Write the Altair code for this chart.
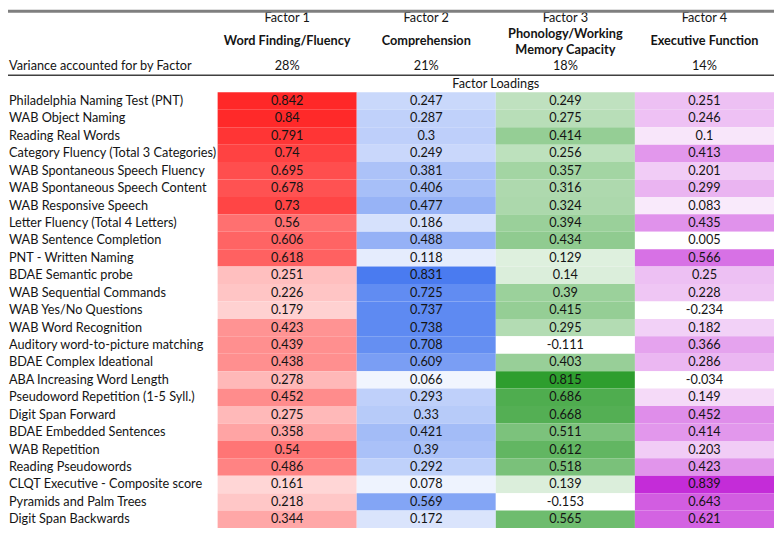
import altair as alt
import pandas as pd

tests = [
    "Philadelphia Naming Test (PNT)",
    "WAB Object Naming",
    "Reading Real Words",
    "Category Fluency (Total 3 Categories)",
    "WAB Spontaneous Speech Fluency",
    "WAB Spontaneous Speech Content",
    "WAB Responsive Speech",
    "Letter Fluency (Total 4 Letters)",
    "WAB Sentence Completion",
    "PNT - Written Naming",
    "BDAE Semantic probe",
    "WAB Sequential Commands",
    "WAB Yes/No Questions",
    "WAB Word Recognition",
    "Auditory word-to-picture matching",
    "BDAE Complex Ideational",
    "ABA Increasing Word Length",
    "Pseudoword Repetition (1-5 Syll.)",
    "Digit Span Forward",
    "BDAE Embedded Sentences",
    "WAB Repetition",
    "Reading Pseudowords",
    "CLQT Executive - Composite score",
    "Pyramids and Palm Trees",
    "Digit Span Backwards",
]

f1 = [0.842, 0.84, 0.791, 0.74, 0.695, 0.678, 0.73, 0.56, 0.606, 0.618, 0.251, 0.226, 0.179,
      0.423, 0.439, 0.438, 0.278, 0.452, 0.275, 0.358, 0.54, 0.486, 0.161, 0.218, 0.344]
f2 = [0.247, 0.287, 0.3, 0.249, 0.381, 0.406, 0.477, 0.186, 0.488, 0.118, 0.831, 0.725, 0.737,
      0.738, 0.708, 0.609, 0.066, 0.293, 0.33, 0.421, 0.39, 0.292, 0.078, 0.569, 0.172]
f3 = [0.249, 0.275, 0.414, 0.256, 0.357, 0.316, 0.324, 0.394, 0.434, 0.129, 0.14, 0.39, 0.415,
      0.295, -0.111, 0.403, 0.815, 0.686, 0.668, 0.511, 0.612, 0.518, 0.139, -0.153, 0.565]
f4 = [0.251, 0.246, 0.1, 0.413, 0.201, 0.299, 0.083, 0.435, 0.005, 0.566, 0.25, 0.228, -0.234,
      0.182, 0.366, 0.286, -0.034, 0.149, 0.452, 0.414, 0.203, 0.423, 0.839, 0.643, 0.621]

factors = ["Factor 1", "Factor 2", "Factor 3", "Factor 4"]
factor_names = ["Word Finding/Fluency", "Comprehension",
                "Phonology/Working\nMemory Capacity", "Executive Function"]
variance = ["28%", "21%", "18%", "14%"]
colors = ["#FF2828", "#4A7BF0", "#2E9E2E", "#C42CD8"]

series = [f1, f2, f3, f4]
rows = []
for fac, vals in zip(factors, series):
    for t, v in zip(tests, vals):
        rows.append({"test": t, "factor": fac, "value": v, "label": str(v)})
df = pd.DataFrame(rows)

hdr = pd.DataFrame({"factor": factors, "name": factor_names, "pct": variance})
hdr["multi"] = hdr["name"].str.contains("\n")
lab = pd.DataFrame({"test": tests})

FONT = "Lato"
TXT = "#141414"
FS = 12.8

xenc = alt.X("factor:N", scale=alt.Scale(domain=factors, paddingInner=0, paddingOuter=0), axis=None)
yenc = alt.Y("test:N", scale=alt.Scale(domain=tests, paddingInner=0, paddingOuter=0), axis=None)

layers = []
for fac, vals, col in zip(factors, series, colors):
    layers.append(
        alt.Chart(df).transform_filter(alt.datum.factor == fac).mark_rect().encode(
            x=xenc, y=yenc,
            color=alt.Color("value:Q", legend=None,
                            scale=alt.Scale(domain=[0, max(vals)], range=["#FFFFFF", col],
                                            clamp=True, interpolate="rgb")),
        )
    )

values_txt = alt.Chart(df).mark_text(font=FONT, fontSize=FS, color=TXT).encode(
    x=xenc, y=yenc, text="label:N")

labels_txt = alt.Chart(lab).mark_text(font=FONT, fontSize=FS, color=TXT, align="left").encode(
    x=alt.value(-210), y=yenc, text="test:N")

fac_txt = alt.Chart(hdr).mark_text(font=FONT, fontSize=FS, color=TXT).encode(
    x=xenc, y=alt.value(-75.0), text="factor:N")
name_txt = alt.Chart(hdr).transform_filter("!datum.multi").mark_text(
    font=FONT, fontSize=FS, fontWeight="bold", color=TXT).encode(
    x=xenc, y=alt.value(-51.2), text="name:N")
name2_txt = alt.Chart(hdr).transform_filter("datum.multi").mark_text(
    font=FONT, fontSize=FS, fontWeight="bold", color=TXT, lineBreak="\n", lineHeight=16).encode(
    x=xenc, y=alt.value(-58.7), text="name:N")
pct_txt = alt.Chart(hdr).mark_text(font=FONT, fontSize=FS, color=TXT).encode(
    x=xenc, y=alt.value(-26.2), text="pct:N")
var_lab = alt.Chart(pd.DataFrame({"t": ["Variance accounted for by Factor"]})).mark_text(
    font=FONT, fontSize=FS, color=TXT, align="left").encode(
    x=alt.value(-210), y=alt.value(-26.2), text="t:N")
load_lab = alt.Chart(pd.DataFrame({"t": ["Factor Loadings"]})).mark_text(
    font=FONT, fontSize=FS, color=TXT).encode(
    x=alt.value(280), y=alt.value(-8.2), text="t:N")

top_line = alt.Chart(pd.DataFrame({"a": [0]})).mark_rule(color="#7f7f7f", strokeWidth=3).encode(
    x=alt.value(-211), x2=alt.value(560), y=alt.value(-81.7))
mid_line = alt.Chart(pd.DataFrame({"a": [0]})).mark_rule(color="#404040", strokeWidth=1.5).encode(
    x=alt.value(-211), x2=alt.value(560), y=alt.value(-17.2))

chart = alt.layer(
    *layers, values_txt, labels_txt, fac_txt, name_txt, name2_txt, pct_txt, var_lab, load_lab,
    top_line, mid_line
).resolve_scale(color="independent").properties(
    width=560, height=438.5,
    autosize=alt.AutoSizeParams(type="none"),
    padding={"left": 211, "top": 83.2, "right": 0, "bottom": 2},
).configure_view(stroke=None)

chart.save("out.html", embed_options={"renderer": "svg", "actions": False})
